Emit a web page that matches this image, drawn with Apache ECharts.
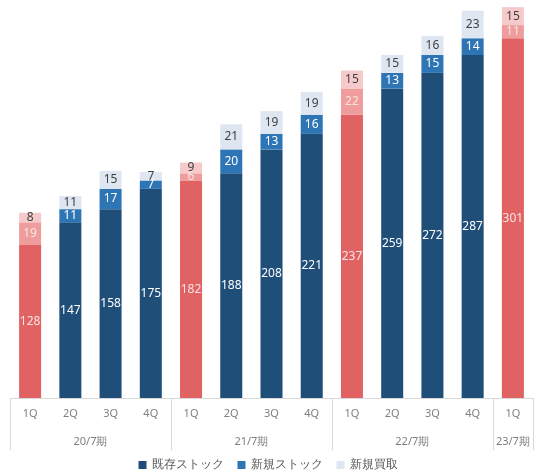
<!DOCTYPE html>
<html>
<head>
<meta charset="utf-8">
<script src="https://cdn.jsdelivr.net/npm/echarts@6/dist/echarts.min.js"></script>
<style>
  html, body { margin: 0; padding: 0; background: #fff; }
  #chart { width: 536px; height: 470px; }
</style>
</head>
<body>
<div id="chart"></div>
<script>
// 四半期ラベルと期
var quarters = ['1Q', '2Q', '3Q', '4Q', '1Q', '2Q', '3Q', '4Q', '1Q', '2Q', '3Q', '4Q', '1Q'];
var periods = ['20/7期', '21/7期', '22/7期', '23/7期'];
var periodSizes = [4, 4, 4, 1];

// 系列データ
var existingStock = [128, 147, 158, 175, 182, 188, 208, 221, 237, 259, 272, 287, 301];
var newStock = [19, 11, 17, 7, 6, 20, 13, 16, 22, 13, 15, 14, 11];
var newPurchase = [8, 11, 15, 7, 9, 21, 19, 19, 15, 15, 16, 23, 15];

var seriesNames = ['既存ストック', '新規ストック', '新規買取'];
var blueColors = ['#1f4e79', '#2e75b6', '#dee6f2'];
var redColors = ['#e06262', '#ee9c9c', '#f6caca'];
var labelColors = ['#ffffff', '#ffffff', '#404040'];
var redLabelColors = ['#fbe3e3', '#fbe3e3', '#404040'];

// 期ラベルの位置（グループ中央）
var periodCenters = {};
var start = 0;
periodSizes.forEach(function (n, i) {
    periodCenters[start + n / 2] = periods[i];
    start += n;
});

var myChart = echarts.init(document.getElementById('chart'));

function makeSeries(values, k) {
    return {
        name: seriesNames[k],
        type: 'bar',
        stack: 'total',
        barWidth: 22,
        itemStyle: { color: blueColors[k] },
        label: {
            show: true,
            position: 'inside',
            fontSize: 12,
            fontFamily: 'Noto Sans',
            color: labelColors[k]
        },
        data: values.map(function (v, i) {
            if (quarters[i] !== '1Q') return v;
            return {
                value: v,
                itemStyle: { color: redColors[k] },
                label: { color: redLabelColors[k] }
            };
        })
    };
}

var option = {
    animation: false,
    textStyle: { fontFamily: 'Noto Sans' },
    grid: { left: 10, right: 0, top: 0, bottom: 72 },
    legend: {
        top: 454,
        left: 'center',
        icon: 'rect',
        itemWidth: 8,
        itemHeight: 8,
        itemGap: 14,
        textStyle: { color: '#595959', fontSize: 12 },
        data: seriesNames
    },
    xAxis: [
        {
            type: 'category',
            data: quarters,
            axisLine: { lineStyle: { color: '#d9d9d9' } },
            axisTick: {
                show: true,
                length: 52,
                interval: function (i) { return i % 4 === 0; },
                lineStyle: { color: '#d9d9d9' }
            },
            axisLabel: { color: '#7f7f7f', fontSize: 11, margin: 10 }
        },
        {
            type: 'value',
            position: 'bottom',
            offset: 30,
            min: 0,
            max: quarters.length,
            interval: 0.5,
            axisLine: { show: false },
            axisTick: { show: false },
            splitLine: { show: false },
            axisLabel: {
                color: '#7f7f7f',
                fontSize: 11,
                showMinLabel: true,
                showMaxLabel: true,
                formatter: function (v) { return periodCenters[v] || ''; }
            }
        }
    ],
    yAxis: {
        type: 'value',
        min: 0,
        max: 333,
        show: false
    },
    series: [
        makeSeries(existingStock, 0),
        makeSeries(newStock, 1),
        makeSeries(newPurchase, 2)
    ]
};

myChart.setOption(option);
</script>
</body>
</html>
